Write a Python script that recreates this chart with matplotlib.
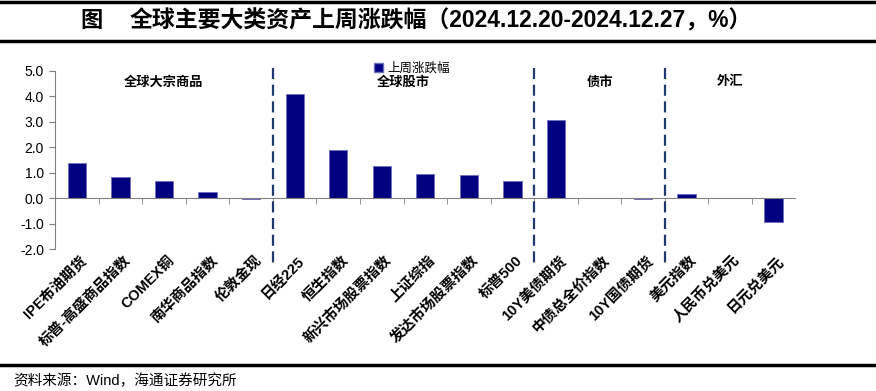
import matplotlib.pyplot as plt
from matplotlib.lines import Line2D
from matplotlib.patches import Patch

plt.rcParams['font.family'] = ['Liberation Sans', 'Noto Sans CJK SC', 'DejaVu Sans']

categories = ['IPE布油期货', '标普-高盛商品指数', 'COMEX铜', '南华商品指数', '伦敦金现',
              '日经225', '恒生指数', '新兴市场股票指数', '上证综指', '发达市场股票指数', '标普500',
              '10Y美债期货', '中债总全价指数', '10Y国债期货',
              '美元指数', '人民币兑美元', '日元兑美元']
values = [1.38, 0.84, 0.69, 0.25, -0.03,
          4.09, 1.88, 1.28, 0.94, 0.89, 0.67,
          3.06, 0.01, -0.03,
          0.16, -0.01, -0.95]
groups = ['全球大宗商品', '全球股市', '债市', '外汇']
group_sizes = [5, 6, 3, 3]
yticks = [-2.0, -1.0, 0.0, 1.0, 2.0, 3.0, 4.0, 5.0]

fig = plt.figure(figsize=(8.76, 3.91), dpi=100)
ax = fig.add_axes([0.063, 0.363, 0.845, 0.456])

x = list(range(len(categories)))
ax.bar(x, values, width=0.42, color='#000080', edgecolor='#6f6fc0', linewidth=0.6)

ax.set_xlim(-0.5, len(categories) - 0.5)
ax.set_ylim(-2.0, 5.0)
ax.set_yticks(yticks)
ax.set_yticklabels([f'{v:.1f}' for v in yticks], fontsize=10)

for s in ['top', 'right']:
    ax.spines[s].set_visible(False)
ax.spines['bottom'].set_position(('data', 0))
ax.spines['left'].set_color('#808080')
ax.spines['bottom'].set_color('#808080')
ax.tick_params(axis='y', direction='out', length=4, color='#808080', pad=4)

# category boundary ticks on the zero line
ax.set_xticks([i + 0.5 for i in x[:-1]] + [-0.5], minor=True)
ax.tick_params(axis='x', which='minor', direction='out', length=4, color='#808080')
ax.tick_params(axis='x', which='major', length=0)
ax.set_xticks(x)
ax.set_xticklabels([])

for i, lab in enumerate(categories):
    ax.annotate(lab, xy=(i, -2.0), xycoords='data', xytext=(2, -3), textcoords='offset points',
                rotation=45, ha='right', va='top', fontsize=10.5, fontweight='bold',
                rotation_mode='anchor', annotation_clip=False)

# group separators and titles
start = 0
for k, (g, n) in enumerate(zip(groups, group_sizes)):
    if k > 0:
        ax.add_line(Line2D([start - 0.5, start - 0.5], [5.1, -2.65], color='#1f3a6e',
                           linestyle=(0, (5, 2.5)), linewidth=1.6, clip_on=False))
    centre = start + (n - 1) / 2
    ax.text(centre, 4.55, g, ha='center', va='center', fontsize=9.5, fontweight='bold')
    start += n

ax.legend(handles=[Patch(facecolor='#000080', edgecolor='#6f6fc0', label='上周涨跌幅')],
          loc='upper center', bbox_to_anchor=(0.482, 1.075), frameon=False, fontsize=9,
          handlelength=0.7, handleheight=0.7, handletextpad=0.3, borderaxespad=0)

# title block and frame lines
fig.add_artist(Line2D([0, 1], [0.995, 0.995], color='black', linewidth=2.5))
fig.add_artist(Line2D([0, 1], [0.895, 0.895], color='black', linewidth=2.5))
fig.add_artist(Line2D([0, 1], [0.066, 0.066], color='black', linewidth=2.5))
fig.text(92 / 876, 0.946, '图', ha='center', va='center', fontsize=16, fontweight='bold')
fig.text(130 / 876, 0.946, '全球主要大类资产上周涨跌幅（2024.12.20-2024.12.27，%）',
         ha='left', va='center', fontsize=16.5, fontweight='bold')
fig.text(0.015, 0.025, '资料来源：Wind，海通证券研究所', ha='left', va='center', fontsize=10.5)

fig.savefig('out.png', dpi=100)
